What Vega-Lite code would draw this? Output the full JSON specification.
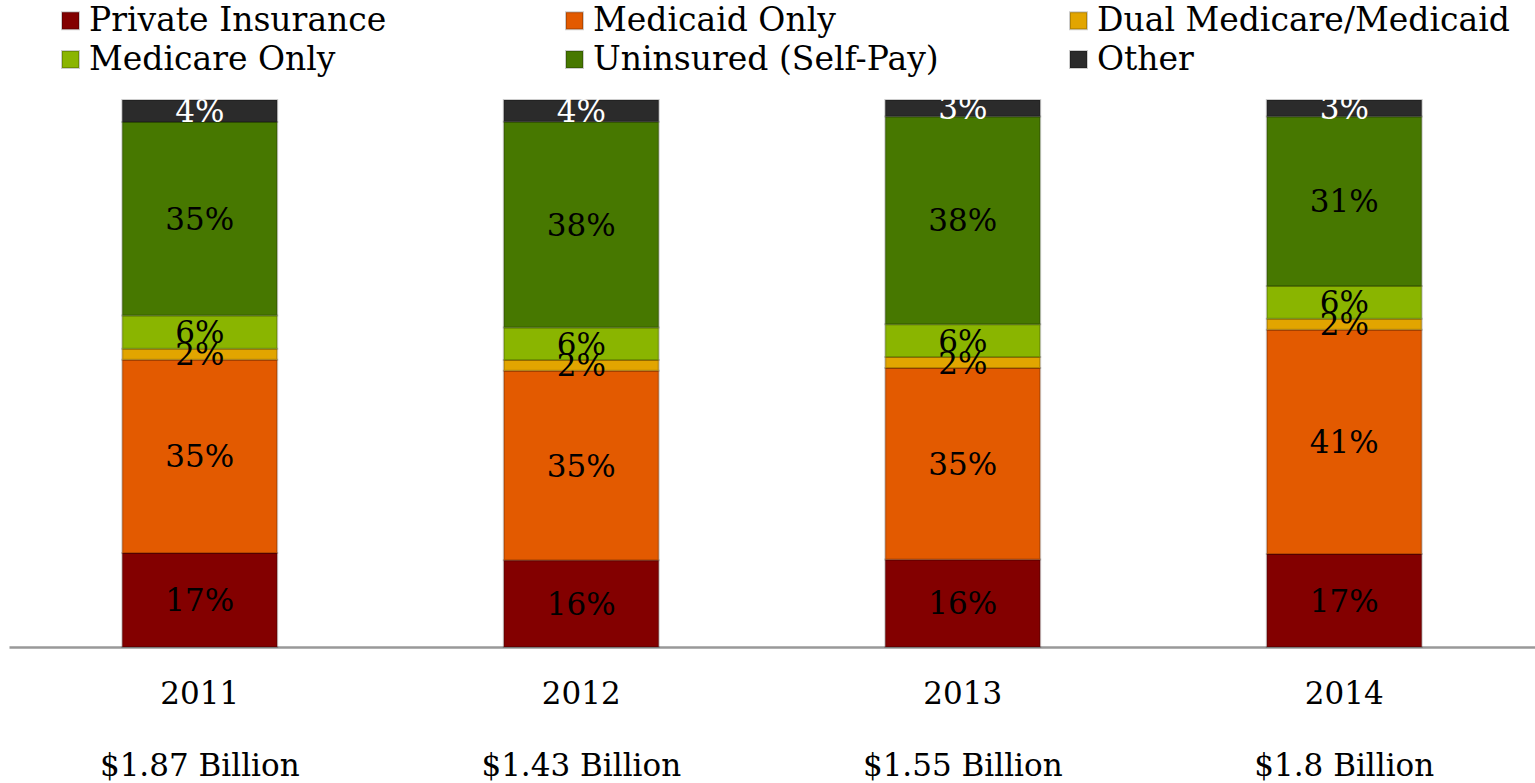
{
  "$schema": "https://vega.github.io/schema/vega-lite/v6.json",
  "autosize": {"type": "none"},
  "width": 1526,
  "height": 547,
  "padding": {"left": 9, "top": 100, "right": 0, "bottom": 136},
  "background": "white",
  "config": {"view": {"stroke": null}, "font": "DejaVu Serif"},
  "data": {"values": [
    {"year": "2011", "cat": "Private Insurance", "k": 1, "pct": 17, "label": "17%"},
    {"year": "2011", "cat": "Medicaid Only", "k": 2, "pct": 35, "label": "35%"},
    {"year": "2011", "cat": "Dual Medicare/Medicaid", "k": 3, "pct": 2, "label": "2%"},
    {"year": "2011", "cat": "Medicare Only", "k": 4, "pct": 6, "label": "6%"},
    {"year": "2011", "cat": "Uninsured (Self-Pay)", "k": 5, "pct": 35, "label": "35%"},
    {"year": "2011", "cat": "Other", "k": 6, "pct": 4, "label": "4%"},
    {"year": "2012", "cat": "Private Insurance", "k": 1, "pct": 16, "label": "16%"},
    {"year": "2012", "cat": "Medicaid Only", "k": 2, "pct": 35, "label": "35%"},
    {"year": "2012", "cat": "Dual Medicare/Medicaid", "k": 3, "pct": 2, "label": "2%"},
    {"year": "2012", "cat": "Medicare Only", "k": 4, "pct": 6, "label": "6%"},
    {"year": "2012", "cat": "Uninsured (Self-Pay)", "k": 5, "pct": 38, "label": "38%"},
    {"year": "2012", "cat": "Other", "k": 6, "pct": 4, "label": "4%"},
    {"year": "2013", "cat": "Private Insurance", "k": 1, "pct": 16, "label": "16%"},
    {"year": "2013", "cat": "Medicaid Only", "k": 2, "pct": 35, "label": "35%"},
    {"year": "2013", "cat": "Dual Medicare/Medicaid", "k": 3, "pct": 2, "label": "2%"},
    {"year": "2013", "cat": "Medicare Only", "k": 4, "pct": 6, "label": "6%"},
    {"year": "2013", "cat": "Uninsured (Self-Pay)", "k": 5, "pct": 38, "label": "38%"},
    {"year": "2013", "cat": "Other", "k": 6, "pct": 3, "label": "3%"},
    {"year": "2014", "cat": "Private Insurance", "k": 1, "pct": 17, "label": "17%"},
    {"year": "2014", "cat": "Medicaid Only", "k": 2, "pct": 41, "label": "41%"},
    {"year": "2014", "cat": "Dual Medicare/Medicaid", "k": 3, "pct": 2, "label": "2%"},
    {"year": "2014", "cat": "Medicare Only", "k": 4, "pct": 6, "label": "6%"},
    {"year": "2014", "cat": "Uninsured (Self-Pay)", "k": 5, "pct": 31, "label": "31%"},
    {"year": "2014", "cat": "Other", "k": 6, "pct": 3, "label": "3%"}
  ]},
  "encoding": {
    "x": {
      "field": "year", "type": "nominal", "title": null,
      "scale": {"paddingInner": 0.594, "paddingOuter": 0.297},
      "axis": {
        "labelAngle": 0, "ticks": false, "domainColor": "#999999", "domainWidth": 2.5,
        "labelFont": "DejaVu Serif", "labelFontSize": 31, "labelColor": "#000000", "labelLimit": 500,
        "labelPadding": 32, "labelBaseline": "top", "labelLineHeight": 72,
        "labelExpr": "datum.label == '2011' ? ['2011', '$1.87 Billion'] : datum.label == '2012' ? ['2012', '$1.43 Billion'] : datum.label == '2013' ? ['2013', '$1.55 Billion'] : ['2014', '$1.8 Billion']"
      }
    }
  },
  "layer": [
    {
      "mark": {"type": "bar", "stroke": "#000000", "strokeOpacity": 0.2, "strokeWidth": 2},
      "encoding": {
        "y": {"field": "pct", "type": "quantitative", "stack": "normalize", "axis": null},
        "order": {"field": "k", "type": "quantitative"},
        "color": {
          "field": "cat", "type": "nominal",
          "scale": {
            "domain": ["Private Insurance", "Medicaid Only", "Dual Medicare/Medicaid", "Medicare Only", "Uninsured (Self-Pay)", "Other"],
            "range": ["#830000", "#E35A00", "#E2A500", "#8AB500", "#477800", "#2B2B2B"]
          },
          "legend": {
            "title": null, "orient": "none", "legendX": 45, "legendY": -96,
            "direction": "horizontal", "columns": 3, "gridAlign": "all", "columnPadding": 56, "rowPadding": 5,
            "symbolType": "square", "symbolSize": 289, "symbolStrokeWidth": 2, "symbolStrokeColor": "#00000033",
            "labelFont": "DejaVu Serif", "labelFontSize": 33, "labelColor": "#000000", "labelOffset": 2, "labelLimit": 600
          }
        }
      }
    },
    {
      "mark": {"type": "text", "font": "DejaVu Serif", "fontSize": 31, "baseline": "middle", "align": "center", "dy": 2},
      "encoding": {
        "y": {"field": "pct", "type": "quantitative", "stack": "normalize", "bandPosition": 0.5},
        "order": {"field": "k", "type": "quantitative"},
        "text": {"field": "label", "type": "nominal"},
        "detail": {"field": "cat"},
        "color": {"condition": {"test": "datum.cat == 'Other'", "value": "#ffffff"}, "value": "#000000"}
      }
    }
  ]
}
